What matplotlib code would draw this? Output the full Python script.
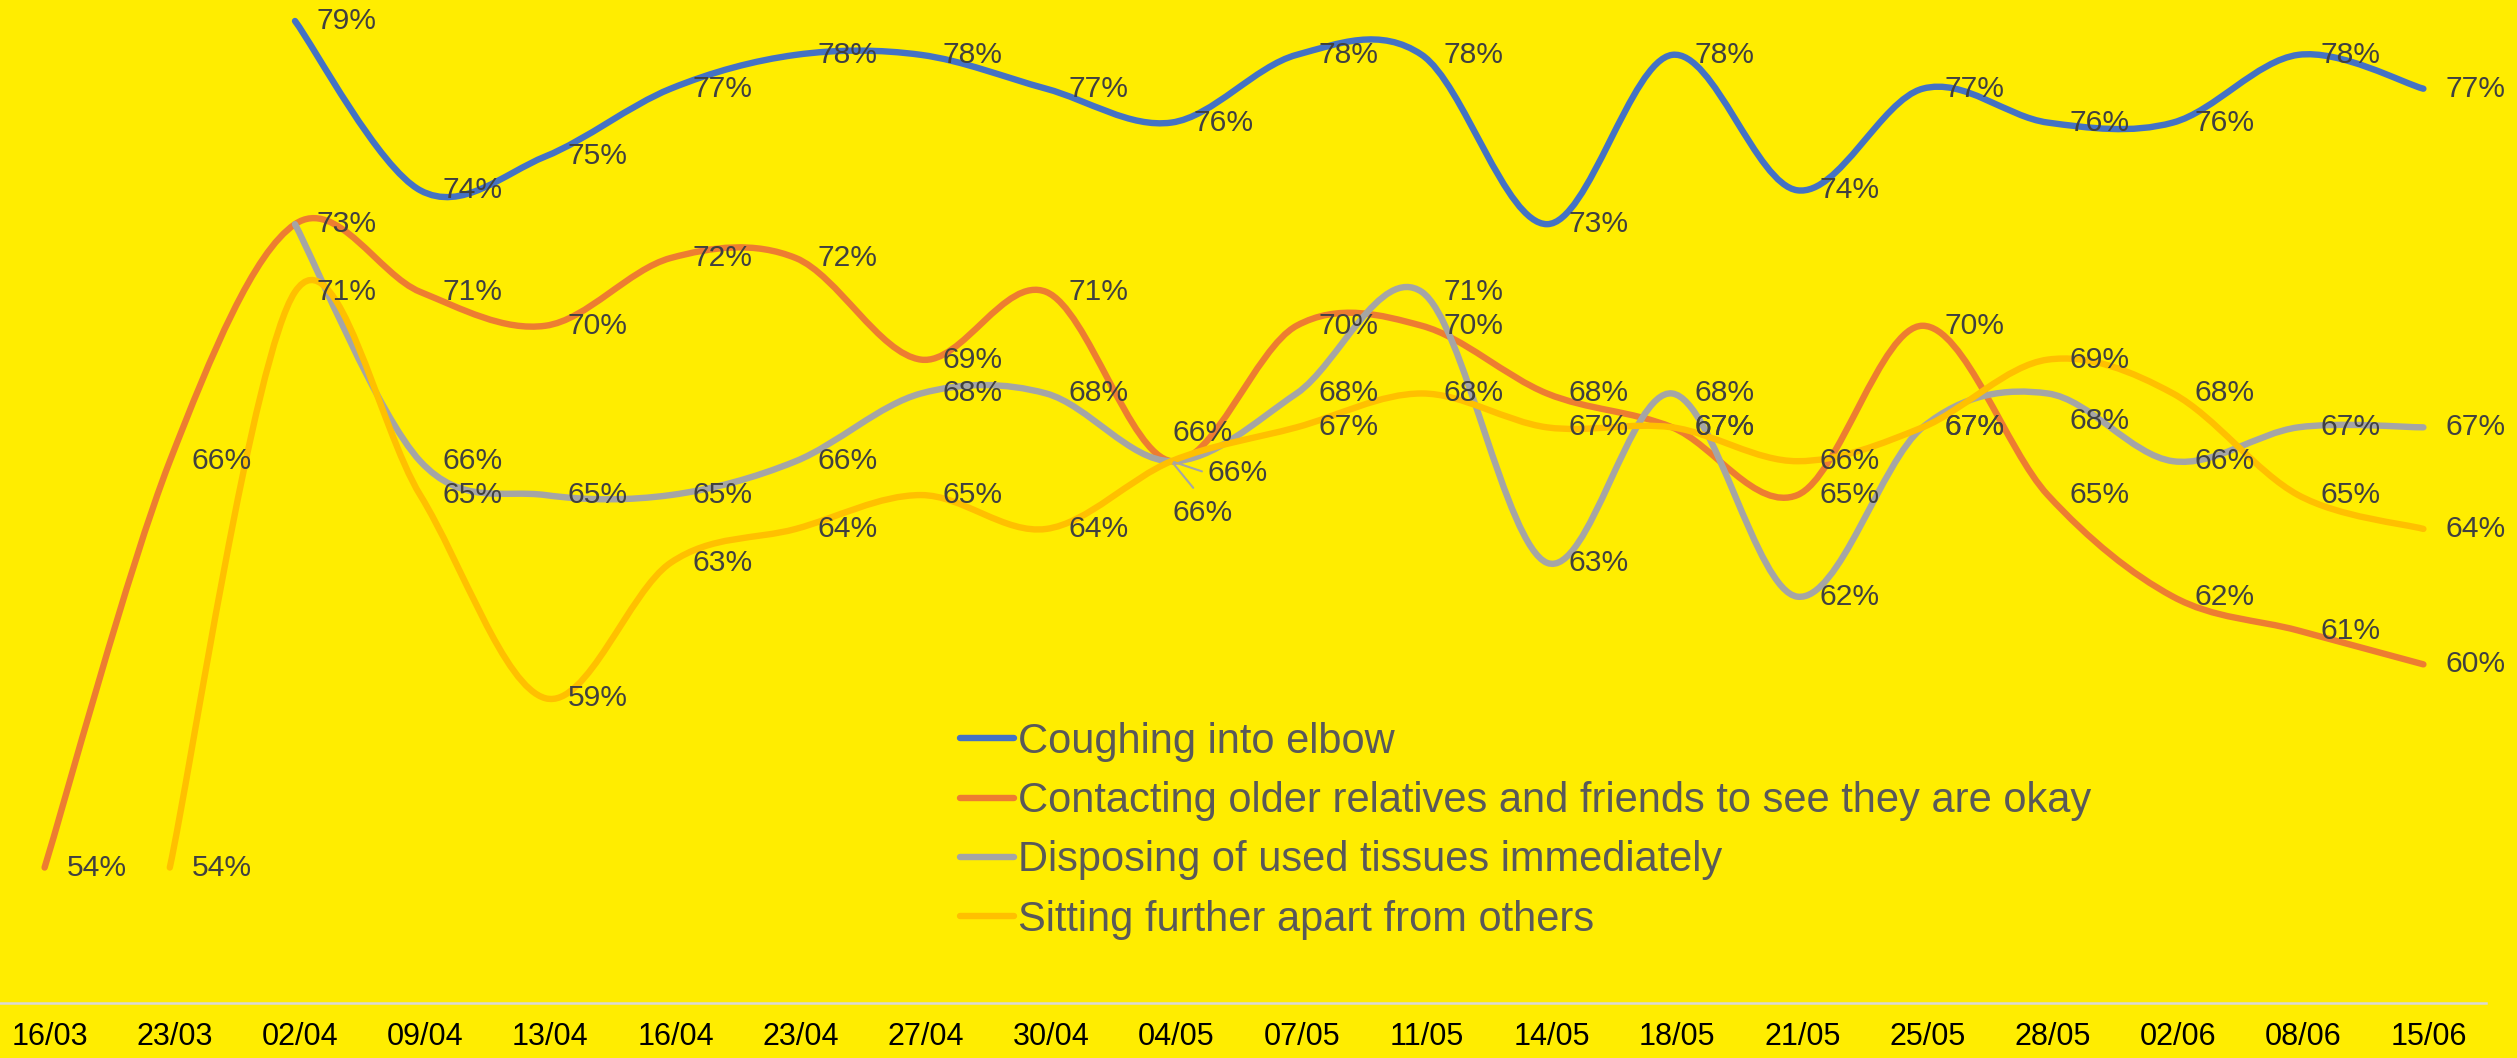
import matplotlib
matplotlib.use("Agg")
import matplotlib.pyplot as plt
import matplotlib.transforms as mtransforms
from matplotlib.path import Path
from matplotlib.patches import PathPatch
from matplotlib.lines import Line2D

plt.rcParams["font.family"] = ["Liberation Sans", "DejaVu Sans"]

dates = ["16/03", "23/03", "02/04", "09/04", "13/04", "16/04", "23/04", "27/04",
         "30/04", "04/05", "07/05", "11/05", "14/05", "18/05", "21/05", "25/05",
         "28/05", "02/06", "08/06", "15/06"]

coughing = [None, None, 79, 74, 75, 77, 78, 78, 77, 76, 78, 78, 73, 78, 74, 77, 76, 76, 78, 77]
contacting = [54, 66, 73, 71, 70, 72, 72, 69, 71, 66, 70, 70, 68, 67, 65, 70, 65, 62, 61, 60]
disposing = [None, None, 73, 66, 65, 65, 66, 68, 68, 66, 68, 71, 63, 68, 62, 67, 68, 66, 67, 67]
sitting = [None, 54, 71, 65, 59, 63, 64, 65, 64, 66, 67, 68, 67, 67, 66, 67, 69, 68, 65, 64]

names = ["Coughing into elbow",
         "Contacting older relatives and friends to see they are okay",
         "Disposing of used tissues immediately",
         "Sitting further apart from others"]
colors = ["#4472C4", "#ED7D31", "#A5A5A5", "#FFC000"]
series = [coughing, contacting, disposing, sitting]

BG = "#FFED00"
W, H = 2517, 1058

fig = plt.figure(figsize=(W / 100, H / 100), dpi=100, facecolor=BG)
ax = fig.add_axes([-18 / W, 55 / H, 2504 / W, 1003 / H])
ax.set_facecolor(BG)
ax.set_xlim(-0.5, 19.5)
ax.set_ylim(50, 79.62)


def smooth_path(xs, ys):
    # excel-like smoothed line: catmull-rom as cubic bezier
    verts = [(xs[0], ys[0])]
    codes = [Path.MOVETO]
    n = len(xs)
    for i in range(n - 1):
        x0, y0 = xs[max(i - 1, 0)], ys[max(i - 1, 0)]
        x1, y1 = xs[i], ys[i]
        x2, y2 = xs[i + 1], ys[i + 1]
        x3, y3 = xs[min(i + 2, n - 1)], ys[min(i + 2, n - 1)]
        c1 = (x1 + (x2 - x0) / 6, y1 + (y2 - y0) / 6)
        c2 = (x2 - (x3 - x1) / 6, y2 - (y3 - y1) / 6)
        verts += [c1, c2, (x2, y2)]
        codes += [Path.CURVE4] * 3
    return Path(verts, codes)


# label offsets in pixels, (series index, point index) -> (dx, dy)
special = {(1, 9): (1, 28), (2, 9): (36, -12), (3, 9): (1, -52), (2, 16): (22, -28)}
skip = {(2, 2)}

for k, (vals, col) in enumerate(zip(series, colors)):
    xs = [i for i, v in enumerate(vals) if v is not None]
    ys = [v for v in vals if v is not None]
    patch = PathPatch(smooth_path(xs, ys), fill=False, edgecolor=col, lw=4.6,
                      capstyle="round", joinstyle="round", zorder=3, clip_on=False)
    ax.add_patch(patch)
    for x, y in zip(xs, ys):
        if (k, x) in skip:
            continue
        dx, dy = special.get((k, x), (22, 0))
        kw = {}
        if k == 2 and x == 9:
            kw["arrowprops"] = dict(arrowstyle="-", color="#A6A6A6", lw=1.5,
                                    shrinkA=2, shrinkB=2, relpos=(0, 0.5))
        if k == 3 and x == 9:
            kw["arrowprops"] = dict(arrowstyle="-", color="#A6A6A6", lw=1.5,
                                    shrinkA=8, shrinkB=2, relpos=(0.5, 1))
        ax.annotate(f"{y}%", (x, y), xytext=(dx, dy), textcoords="offset pixels",
                    ha="left", va="center", fontsize=21.6, color="#404040", zorder=4,
                    **kw)

for s in ["top", "left", "right"]:
    ax.spines[s].set_visible(False)
ax.spines["bottom"].set_color("#D9D9D9")
ax.spines["bottom"].set_linewidth(1.8)
ax.set_yticks([])
ax.set_xticks(range(len(dates)))
ax.set_xticklabels(dates)
ax.tick_params(axis="x", length=0, pad=14, labelsize=22, labelcolor="black")
shift = mtransforms.ScaledTranslation(5 / 100, 0, fig.dpi_scale_trans)
for lab in ax.get_xticklabels():
    lab.set_transform(lab.get_transform() + shift)

handles = [Line2D([], [], color=c, lw=4.6, solid_capstyle="round") for c in colors]
ax.legend(handles, names, loc="upper left", bbox_to_anchor=(960 / W, 1 - 722 / H),
          bbox_transform=fig.transFigure, frameon=False, fontsize=30.0,
          labelcolor="#595959", handlelength=1.29, handletextpad=0.1,
          labelspacing=0.46, borderpad=0, borderaxespad=0)

fig.savefig("out.png", dpi=100, facecolor=BG)
